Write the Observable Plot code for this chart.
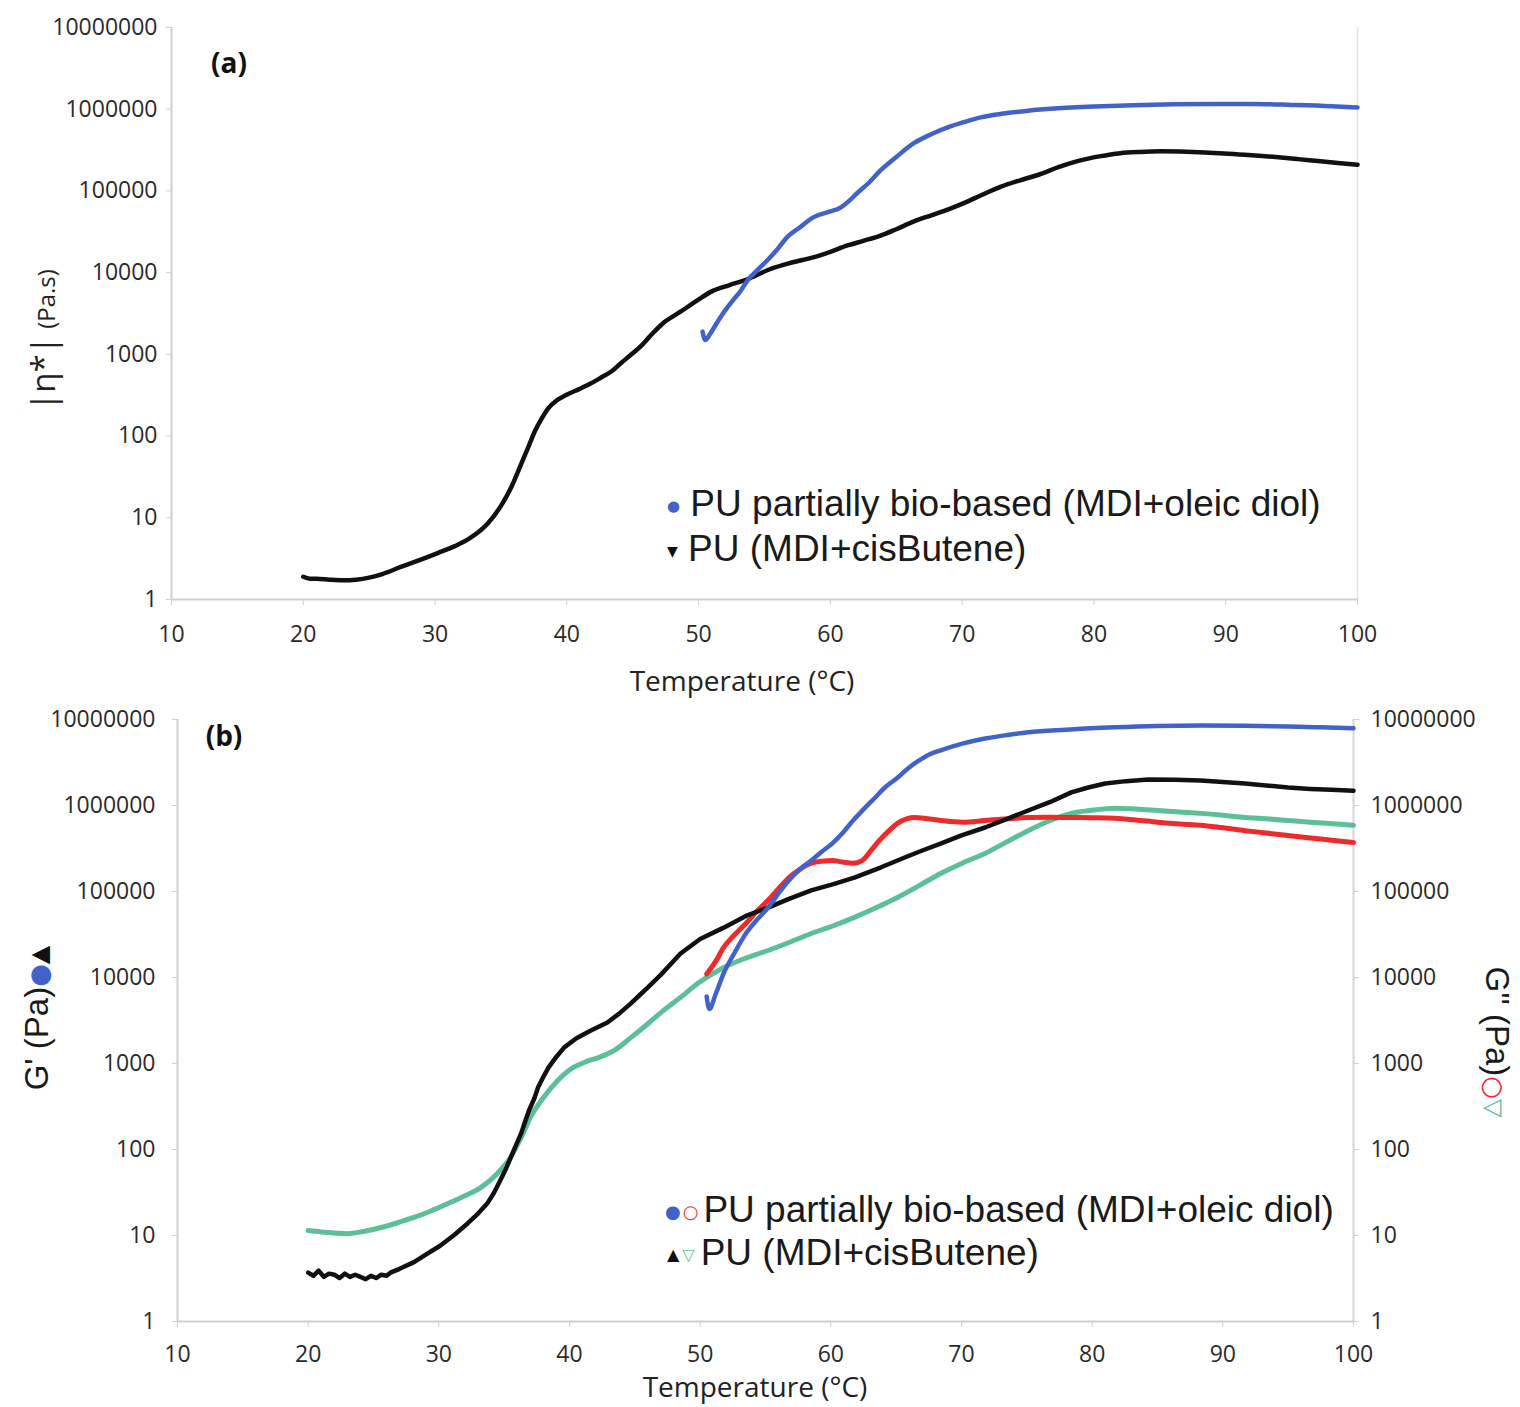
<!DOCTYPE html>
<html><head><meta charset="utf-8">
<script src="https://cdn.jsdelivr.net/npm/d3@7"></script>
<script src="https://cdn.jsdelivr.net/npm/@observablehq/plot@0.6"></script>
<style>
body{margin:0;background:#fff;}
#wrap{position:relative;width:1520px;height:1407px;overflow:hidden;background:#fff;}
#wrap svg{position:absolute;left:0;}
.abs{position:absolute;white-space:nowrap;line-height:1;}
.c{transform:translate(-50%,-50%);}
.leg{font-family:"Liberation Sans",Arial,sans-serif;font-size:37px;color:#1a1a1a;}
.ax{font-family:"Open Sans",sans-serif;font-size:28px;color:#222;}
.g{font-family:"DejaVu Sans",sans-serif;vertical-align:middle;}
</style></head><body><div id="wrap"></div>
<script>
// ---------- Panel (a): complex viscosity |η*| (Pa.s) ----------
const tempA_cis = [20,20.5,21,22,23,24,25,26,27.4,28.5,30.2,31.5,32.7,34,35,35.8,36.5,37.1,37.6,38.1,38.6,39.2,39.9,41,41.8,42.6,43.4,44.1,44.8,45.6,46.3,47.3,48.6,49.9,51,52.3,53.7,55.4,57,58.7,60,61.3,62.5,63.7,65,66.3,67.6,69,70.3,71.4,72.9,74.4,75.9,77.3,78.9,80.4,82,83.5,85,86.5,88,89.5,91,92.5,94,95.5,97,98.5,100];
const etaA_cis = [1.9,1.8,1.8,1.75,1.72,1.75,1.85,2.05,2.5,2.9,3.7,4.5,5.7,8.5,14,24,44,75,117,165,220,270,315,380,440,520,620,780,970,1250,1660,2400,3300,4570,5900,7000,8300,11000,13200,15400,18000,21500,24500,28000,34000,42000,50000,60000,73000,88000,112000,135000,160000,195000,235000,265000,290000,300000,305000,303000,298000,290000,280000,270000,258000,245000,232000,220000,209000];
const tempA_bio = [50.3,50.5,50.9,51.5,52.1,52.6,53.2,53.7,54.4,55.2,56,56.7,57.7,58.7,59.8,60.8,61.4,62,62.9,63.8,65,66.3,67.6,68.9,70.2,71.4,73,75,77,80,83,86,89,92,95,98,100];
const etaA_bio = [1900,1500,1810,2600,3600,4570,6000,8000,10500,14100,19500,27000,36000,47500,55000,63000,75000,93000,125000,178000,260000,381000,490000,600000,700000,795000,880000,960000,1020000,1080000,1120000,1150000,1160000,1160000,1130000,1090000,1050000];

// ---------- Panel (b): G' and G'' (Pa) ----------
const tempB_cisG1 = [20,20.4,20.8,21.2,21.6,22,22.4,22.8,23.2,23.6,24,24.4,24.8,25.2,25.6,26,26.3,27,28.1,29,30.1,31.2,32.2,33,33.7,34.2,34.7,35.1,35.5,35.9,36.3,36.6,36.9,37.3,37.6,38,38.4,39,39.6,40.5,41.6,42.9,43.8,44.7,45.4,46,47,48,48.5,50,51.8,53.5,55.2,56.8,58.5,60.2,61.8,63.8,65.7,67,68.4,70,71.8,73.5,75.1,76.8,78.4,79.7,81,82.6,84.3,86.3,88.3,90,91.7,93.3,95,96.7,98.3,100];
const gB_cisG1 = [3.7,3.4,3.9,3.3,3.6,3.5,3.2,3.6,3.3,3.5,3.3,3.1,3.4,3.2,3.5,3.4,3.7,4.1,4.9,6.0,7.6,10.2,13.8,18,23.5,31,43.6,58,80.6,112,154,210,284,390,529,700,900,1200,1540,1950,2400,3000,3800,5000,6300,7660,10800,15800,19000,28000,38000,52000,65000,82000,103000,122000,145000,190000,250000,300000,361000,450000,555000,700000,875000,1100000,1420000,1620000,1800000,1920000,2000000,1990000,1950000,1880000,1800000,1710000,1620000,1560000,1520000,1480000];
const tempB_bioG1 = [50.5,50.7,51.2,51.8,52.6,53.5,54.3,55.2,56,56.8,57.6,58.5,59.3,60.1,60.9,61.7,62.5,63.4,64.2,65.1,65.9,66.7,67.5,68.4,70,71.8,73.5,75.1,78,81.7,85,88.3,91.7,95,97.5,100];
const gB_bioG1 = [6000,4300,6500,11200,19000,32500,46000,65000,95000,135000,180000,229000,290000,361000,480000,670000,900000,1240000,1650000,2100000,2700000,3300000,3900000,4370000,5200000,6000000,6600000,7100000,7600000,8100000,8400000,8500000,8450000,8300000,8100000,7900000];
const tempB_bioG2 = [50.5,51.2,51.8,52.6,53.5,54.3,55.2,56,56.8,57.6,58.5,59.3,60.1,60.9,61.7,62.4,63,63.7,64.4,65.1,65.8,66.4,67.4,68.4,70.1,71.8,73.5,75.1,76.8,78.4,80,81.7,83.3,85,86.7,88.3,90,91.7,93.3,95,96.7,98.3,100];
const gB_bioG2 = [11000,15500,22400,31000,42500,58000,79000,108000,145000,180000,213000,225000,229000,220000,213000,229000,290000,390000,500000,620000,700000,725000,700000,670000,640000,670000,700000,725000,730000,725000,720000,710000,680000,640000,610000,590000,550000,510000,480000,447000,420000,395000,371000];
const tempB_cisG2 = [20,21,22,23,24.3,25.6,26.8,28.1,29.4,30.7,32,33.2,34.5,35.5,36.3,37,38,39.1,40.3,41.2,42.2,43.4,44.7,46,47.2,48.5,49.8,51.8,53.5,55.2,56.8,58.5,60.2,61.8,63.5,65.1,66.8,68.4,70.1,71.8,73.5,75.1,76.8,78.4,80,81.7,83.3,85,86.7,88.3,90,91.7,93.3,95,96.7,98.3,100];
const gB_cisG2 = [11.4,11,10.7,10.5,11.2,12.4,14,16.2,19.3,23.5,29,36,53,81,138,235,400,635,900,1040,1170,1410,2000,2900,4150,5870,8500,13100,16800,20600,25500,32500,40000,50000,65000,85000,118000,162000,215000,277000,380000,510000,670000,810000,880000,930000,910000,875000,840000,810000,770000,725000,700000,670000,640000,615000,590000];

// ---------- axes / labels ----------
const xTicks = [10,20,30,40,50,60,70,80,90,100];
const yTicks = [1,10,100,1000,10000,100000,1000000,10000000];
const legendA = ["PU partially bio-based (MDI+oleic diol)", "PU (MDI+cisButene)"];
const legendB = ["PU partially bio-based (MDI+oleic diol)", "PU (MDI+cisButene)"];

const BLUE = "#4262c9", BLACK = "#111111", RED = "#ee2a2a", GREEN = "#5cbf98";
const rows = (t, v) => t.map((x, i) => ({t: x, v: v[i]}));

const axisStyle = {fontFamily: "'Open Sans', sans-serif", fontSize: "23px", background: "transparent", color: "#333"};
const tickOpts = {stroke: "#cfcfcf", fill: "#2a2a2a", fontSize: 23, label: null, tickFormat: d => String(d)};

const chartA = Plot.plot({
  width: 1520, height: 700,
  marginLeft: 171, marginRight: 163, marginTop: 27, marginBottom: 101,
  style: axisStyle,
  x: {domain: [10, 100]},
  y: {type: "log", domain: [1, 1e7]},
  marks: [
    Plot.ruleX([100], {stroke: "#e2e2e2", strokeWidth: 1.5}),
    Plot.ruleY([1], {stroke: "#cfcfcf", strokeWidth: 2}),
    Plot.ruleX([10], {stroke: "#cfcfcf", strokeWidth: 2}),
    Plot.axisX({...tickOpts, ticks: xTicks, tickSize: 6, tickPadding: 20}),
    Plot.axisY({...tickOpts, ticks: yTicks, tickSize: 5, tickPadding: 9}),
    Plot.line(rows(tempA_cis, etaA_cis), {x: "t", y: "v", stroke: BLACK, strokeWidth: 4.5, curve: "monotone-x"}),
    Plot.line(rows(tempA_bio, etaA_bio), {x: "t", y: "v", stroke: BLUE, strokeWidth: 4.5, curve: "monotone-x"})
  ]
});

const chartB = Plot.plot({
  width: 1520, height: 707,
  marginLeft: 177, marginRight: 167, marginTop: 19, marginBottom: 86,
  style: axisStyle,
  x: {domain: [10, 100]},
  y: {type: "log", domain: [1, 1e7]},
  marks: [
    Plot.ruleY([1], {stroke: "#cfcfcf", strokeWidth: 2}),
    Plot.ruleX([10], {stroke: "#cfcfcf", strokeWidth: 2}),
    Plot.ruleX([100], {stroke: "#d6d6d6", strokeWidth: 2}),
    Plot.axisX({...tickOpts, ticks: xTicks, tickSize: 6, tickPadding: 18}),
    Plot.axisY({...tickOpts, ticks: yTicks, tickSize: 5, tickPadding: 17}),
    Plot.axisY({...tickOpts, anchor: "right", ticks: yTicks, tickSize: 5, tickPadding: 12}),
    Plot.line(rows(tempB_cisG2, gB_cisG2), {x: "t", y: "v", stroke: GREEN, strokeWidth: 5, curve: "monotone-x"}),
    Plot.line(rows(tempB_bioG2, gB_bioG2), {x: "t", y: "v", stroke: RED, strokeWidth: 5, curve: "monotone-x"}),
    Plot.line(rows(tempB_cisG1, gB_cisG1), {x: "t", y: "v", stroke: BLACK, strokeWidth: 4.5, curve: "linear"}),
    Plot.line(rows(tempB_bioG1, gB_bioG1), {x: "t", y: "v", stroke: BLUE, strokeWidth: 4.5, curve: "monotone-x"})
  ]
});

const wrap = document.getElementById("wrap");
chartA.style.top = "0px";
chartB.style.top = "700px";
wrap.appendChild(chartA);
wrap.appendChild(chartB);

function add(html, left, top, cls, extra) {
  const d = document.createElement("div");
  d.className = "abs " + (cls || "");
  d.style.left = left + "px";
  d.style.top = top + "px";
  if (extra) d.style.transform = extra;
  d.innerHTML = html;
  wrap.appendChild(d);
  return d;
}

// panel labels
add("(a)", 229, 62, "c", null).style.cssText += "font-family:'Open Sans',sans-serif;font-weight:700;font-size:28px;color:#111;";
add("(b)", 224, 735, "c", null).style.cssText += "font-family:'Open Sans',sans-serif;font-weight:700;font-size:28px;color:#111;";

// x titles
add("Temperature (°C)", 742, 680, "ax c");
add("Temperature (°C)", 755, 1386, "ax c");

// y titles
add('<span style="font-size:33px">|η*|</span> <span style="font-size:24px">(Pa.s)</span>', 42, 340, "ax", "translate(-50%,-50%) rotate(-90deg)").style.color = "#222";
add('<span>G\' (Pa)</span><span class="g" style="color:' + BLUE + ';font-size:26px">●</span><span class="g" style="font-size:24px;color:#111">▲</span>',
    36, 1018, "leg", "translate(-50%,-50%) rotate(-90deg)").style.fontSize = "33px";
add('<span>G\'\' (Pa)</span><span class="g" style="color:' + RED + ';font-size:26px">○</span><span class="g" style="font-size:24px;color:' + GREEN + '">▽</span>',
    1497, 1042, "leg", "translate(-50%,-50%) rotate(90deg)").style.fontSize = "33px";

// legend (a)
add('<span class="g" style="font-size:15px;color:' + BLUE + '">●</span> ' + legendA[0], 667, 485, "leg");
add('<span class="g" style="font-size:14px;color:#111">▼</span> ' + legendA[1], 667, 530, "leg");

// legend (b)
add('<span class="g" style="font-size:18px;color:' + BLUE + '">●</span><span class="g" style="font-size:18px;color:' + RED + ';margin-left:2px;margin-right:5px">○</span>' + legendB[0], 665, 1191, "leg");
add('<span class="g" style="font-size:16px;color:#111">▲</span><span class="g" style="font-size:16px;color:' + GREEN + ';margin-left:3px;margin-right:6px">▽</span>' + legendB[1], 667, 1234, "leg");
</script></body></html>
